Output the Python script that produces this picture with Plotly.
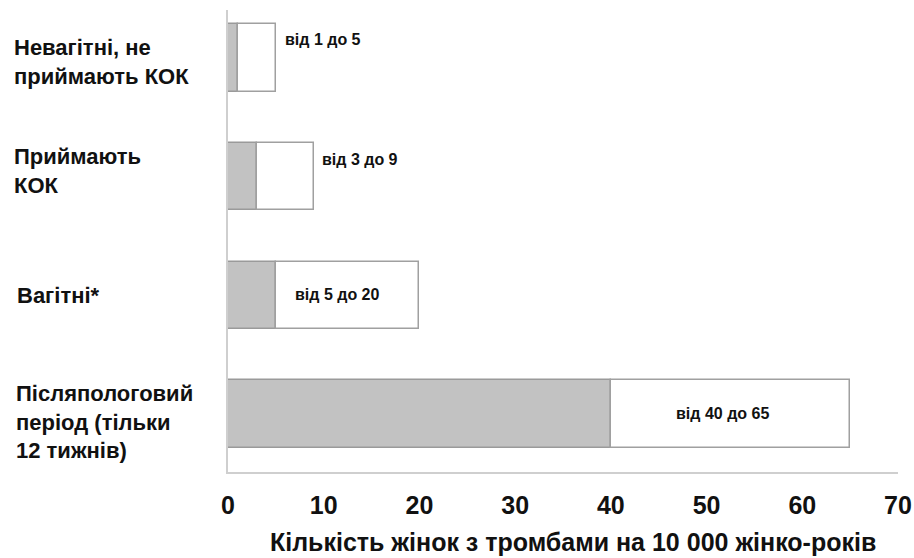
import plotly.graph_objects as go

# Thrombosis incidence per 10 000 woman-years: lower and upper bounds
categories = [
    "Невагітні, не<br>приймають КОК",
    "Приймають<br>КОК",
    "Вагітні*",
    "Післяпологовий<br>період (тільки<br>12 тижнів)",
]
low_values = [1, 3, 5, 40]
high_values = [5, 9, 20, 65]
x_ticks = [0, 10, 20, 30, 40, 50, 60, 70]
x_title = "Кількість жінок з тромбами на 10 000 жінко-років"

# Presentation: where each range label sits and small nudges (pixels)
label_mode = ["outside", "outside", "inside", "inside"]
label_yshift = [18, 17, 1, 1]
label_xshift = [7, 6, -10, -8]
cat_x = [-0.322, -0.322, -0.318, -0.320]
cat_yshift = [-4, 6, 0, -8]

y_pos = list(range(len(categories)))
font_family = "Liberation Sans, Arial, sans-serif"
ink = "#111111"

fig = go.Figure()
fig.add_trace(go.Bar(
    y=y_pos, x=low_values, orientation="h", width=0.57,
    marker=dict(color="#c2c2c2", line=dict(color="#9a9a9a", width=1.5)),
    hoverinfo="skip", showlegend=False,
))
fig.add_trace(go.Bar(
    y=y_pos, x=[h - l for l, h in zip(low_values, high_values)],
    base=low_values, orientation="h", width=0.57,
    marker=dict(color="#ffffff", line=dict(color="#a0a0a0", width=1.5)),
    hoverinfo="skip", showlegend=False,
))

annotations = []
for i, (lo, hi) in enumerate(zip(low_values, high_values)):
    if label_mode[i] == "outside":
        ax, anchor = hi, "left"
    else:
        ax, anchor = (lo + hi) / 2, "center"
    annotations.append(dict(
        x=ax, y=i, xref="x", yref="y", text=f"<b>від {lo} до {hi}</b>",
        showarrow=False, xanchor=anchor, yanchor="middle",
        xshift=label_xshift[i], yshift=label_yshift[i],
        font=dict(family=font_family, size=16, color=ink),
    ))

for i, name in enumerate(categories):
    annotations.append(dict(
        x=cat_x[i], y=i, xref="paper", yref="y", text=f"<b>{name}</b>",
        showarrow=False, xanchor="left", yanchor="middle", align="left",
        yshift=cat_yshift[i],
        font=dict(family=font_family, size=22, color=ink),
    ))

annotations.append(dict(
    x=0.515, y=-0.184, xref="paper", yref="paper", text=f"<b>{x_title}</b>",
    showarrow=False, xanchor="center", yanchor="bottom", borderpad=0,
    font=dict(family=font_family, size=25, color=ink),
))

fig.update_layout(
    width=914, height=558,
    margin=dict(l=228, r=16, t=10, b=86, autoexpand=False),
    paper_bgcolor="white", plot_bgcolor="white",
    barmode="overlay", bargap=0,
    annotations=annotations,
    xaxis=dict(
        range=[0, 70], tickmode="array", tickvals=x_ticks,
        ticktext=[f"<b>{t}</b>" for t in x_ticks],
        showgrid=False, zeroline=False, showline=True,
        linecolor="#cfcfcf", linewidth=1.5, ticks="",
        ticklabelstandoff=10, automargin=False,
        tickfont=dict(family=font_family, size=25, color=ink),
    ),
    yaxis=dict(
        range=[3.487, -0.403], showticklabels=False, showgrid=False,
        zeroline=False, showline=True, linecolor="#cfcfcf", linewidth=1.5,
        ticks="", automargin=False,
    ),
)

fig.write_html("out.html")
